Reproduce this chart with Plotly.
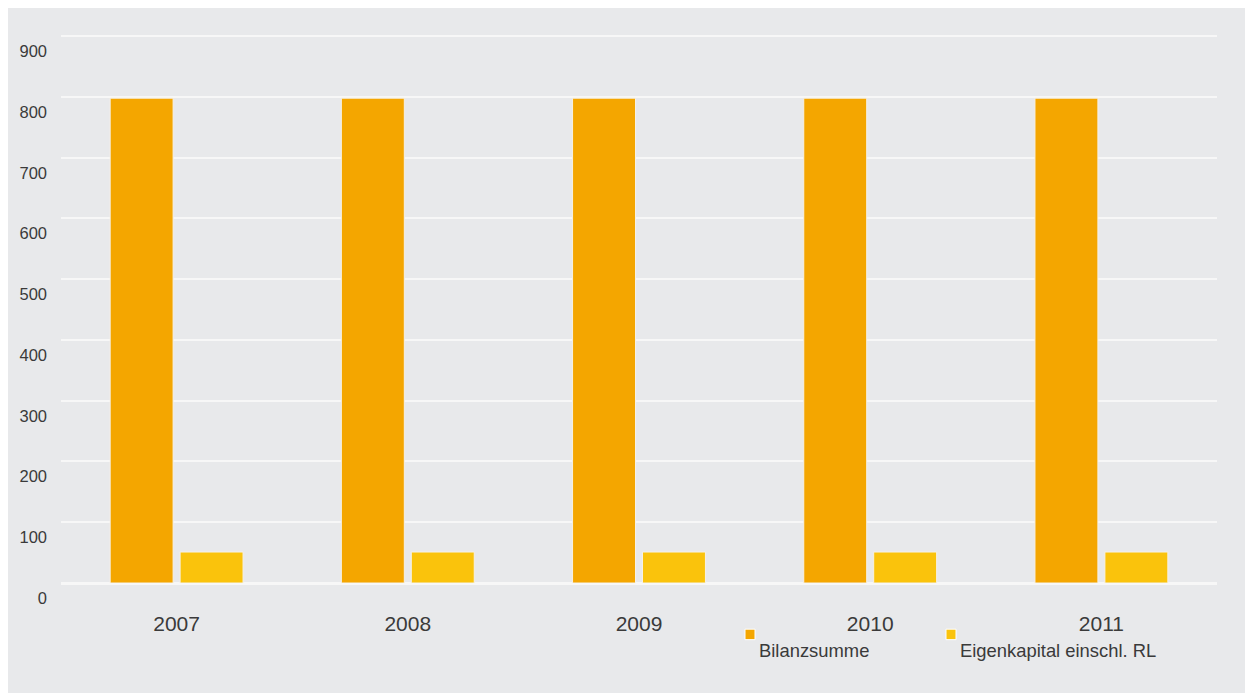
import plotly.graph_objects as go

years = ["2007", "2008", "2009", "2010", "2011"]
bilanzsumme = [798, 798, 798, 798, 798]
eigenkapital = [51, 51, 51, 51, 51]
series_names = ["Bilanzsumme", "Eigenkapital einschl. RL"]
y_ticks = [0, 100, 200, 300, 400, 500, 600, 700, 800, 900]

colors = ["#F4A600", "#FAC30C"]
BG = "#E8E9EB"
TXT = "#3A3A3A"
FONT = "Liberation Sans, Arial, sans-serif"

OX, OY = 8, 8          # page body offset
W, H = 1253, 685
L, T = 61 - OX, 35 - OY
R = W - (1217 - OX)
B = H - (583.3 - OY)
pw, ph = W - L - R, H - T - B


def px_x(x):
    return (x - OX - L) / pw


def px_y(y):
    return (H - B - (y - OY)) / ph


fig = go.Figure()
for name, vals, c in zip(series_names, [bilanzsumme, eigenkapital], colors):
    fig.add_bar(x=years, y=vals, name=name,
                marker=dict(color=c, line=dict(color="#F6F1E6", width=1)),
                showlegend=False)

shapes = []
annotations = []
leg_x = [745, 946]
for i, (name, c) in enumerate(zip(series_names, colors)):
    x0 = leg_x[i]
    shapes.append(dict(type="rect", xref="paper", yref="paper",
                       x0=px_x(x0), x1=px_x(x0 + 10), y0=px_y(640), y1=px_y(629.5),
                       fillcolor=c, line=dict(color="white", width=1)))
    annotations.append(dict(text=name, xref="paper", yref="paper", x=px_x(x0 + 12), y=px_y(651),
                            xanchor="left", yanchor="middle", showarrow=False,
                            font=dict(size=18.4, color=TXT, family=FONT)))

fig.update_layout(
    width=W, height=H,
    margin=dict(l=L, r=R, t=T, b=B, autoexpand=False),
    paper_bgcolor=BG, plot_bgcolor=BG,
    barmode="group", bargap=0.395, bargroupgap=0.1,
    font=dict(family=FONT, color=TXT),
    shapes=shapes, annotations=annotations,
    xaxis=dict(showgrid=False, showline=False, zeroline=False, ticks="",
               tickfont=dict(size=21, color=TXT), ticklabelstandoff=26),
    yaxis=dict(range=[0, 902], tickvals=y_ticks, ticktext=[str(v) for v in y_ticks],
               showgrid=True, gridcolor="#F7F7F7", gridwidth=2,
               zeroline=True, zerolinecolor="#F7F7F7", zerolinewidth=3,
               showline=False, ticks="", tickfont=dict(size=16.5, color=TXT),
               ticklabelshift=15, ticklabelstandoff=13),
)

fig.write_html("out.html")
